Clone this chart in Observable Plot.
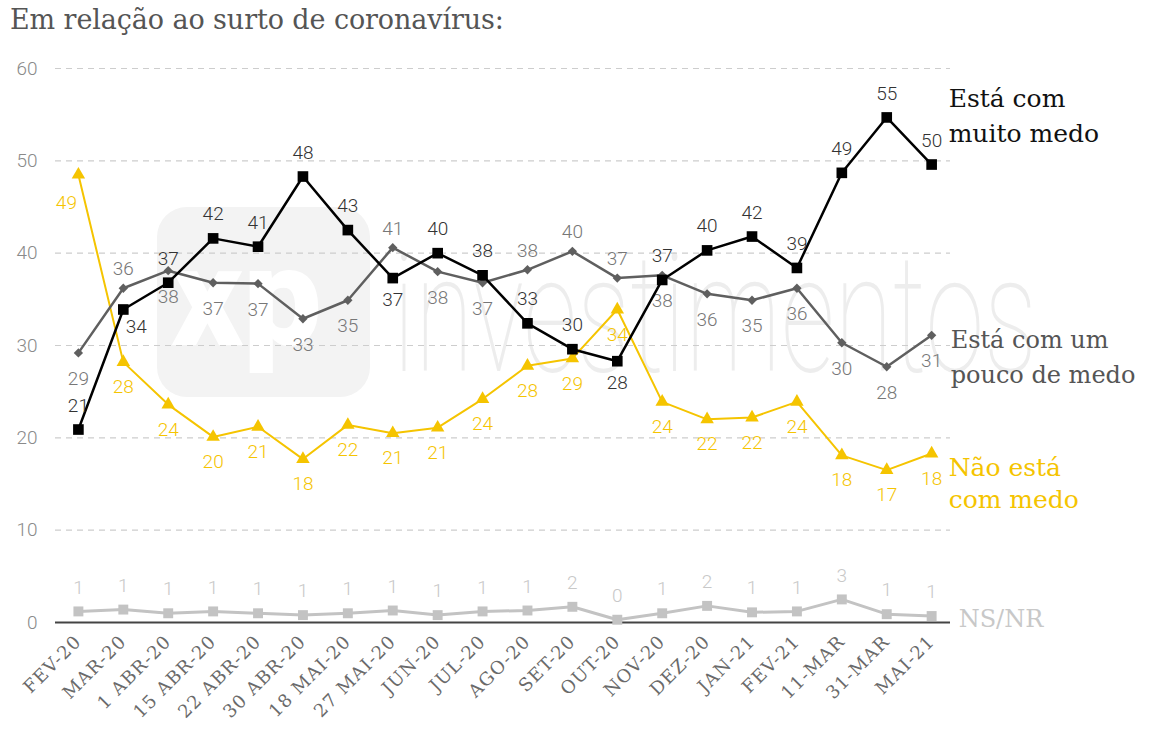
<!DOCTYPE html>
<html><head><meta charset="utf-8">
<script src="https://cdn.jsdelivr.net/npm/d3@7"></script>
<script src="https://cdn.jsdelivr.net/npm/@observablehq/plot@0.6"></script>
<style>
body{margin:0;background:#fff;width:1150px;height:738px;overflow:hidden;position:relative;font-family:"DejaVu Serif",serif;}
#title{position:absolute;left:10px;top:4px;font-size:27px;color:#555;white-space:nowrap;letter-spacing:-0.1px;}
#chart{position:absolute;left:0;top:42px;}
#logo{position:absolute;left:157px;top:207px;width:213px;height:190px;border-radius:30px;background:#f3f3f3;}
#logo span{position:absolute;left:14px;top:20px;font-family:Roboto,sans-serif;font-weight:900;font-size:140px;line-height:140px;color:#fff;}
#wm{position:absolute;left:393px;top:232px;font-family:Roboto,sans-serif;font-weight:100;font-size:165px;line-height:165px;color:#ededed;transform:scaleX(0.645);transform-origin:0 0;white-space:nowrap;}
</style></head>
<body>
<div id="logo"><span>xp</span></div>
<div id="wm">investimentos</div>
<div id="title">Em relação ao surto de coronavírus:</div>
<div id="chart"></div>
<script>
const categories = ["FEV-20","MAR-20","1 ABR-20","15 ABR-20","22 ABR-20","30 ABR-20","18 MAI-20","27 MAI-20","JUN-20","JUL-20","AGO-20","SET-20","OUT-20","NOV-20","DEZ-20","JAN-21","FEV-21","11-MAR","31-MAR","MAI-21"];

// plotted values (estimated from point positions)
const muitoMedo = [20.9,33.9,36.8,41.6,40.7,48.3,42.5,37.3,40.0,37.6,32.4,29.6,28.3,37.1,40.3,41.8,38.4,48.7,54.7,49.6];
const poucoMedo = [29.2,36.2,38.1,36.8,36.7,32.9,34.9,40.6,38.0,36.8,38.2,40.2,37.3,37.6,35.6,34.9,36.2,30.3,27.7,31.1];
const semMedo   = [48.5,28.2,23.6,20.1,21.2,17.7,21.4,20.5,21.1,24.2,27.8,28.6,33.9,23.9,22.0,22.2,23.9,18.1,16.5,18.3];
const nsnr      = [1.2,1.4,1.0,1.2,1.0,0.8,1.0,1.3,0.8,1.2,1.3,1.7,0.3,1.0,1.8,1.1,1.2,2.5,0.9,0.7];

// printed labels
const muitoMedoLabels = [21,34,37,42,41,48,43,37,40,38,33,30,28,37,40,42,39,49,55,50];
const poucoMedoLabels = [29,36,38,37,37,33,35,41,38,37,38,40,37,38,36,35,36,30,28,31];
const semMedoLabels   = [49,28,24,20,21,18,22,21,21,24,28,29,34,24,22,22,24,18,17,18];
const nsnrLabels      = [1,1,1,1,1,1,1,1,1,1,1,2,0,1,2,1,1,3,1,1];

// label placement: a = above, b = below, r = below right, l = below left
const muitoMedoPos = ["a","r","a","a","a","a","a","b","a","a","a","a","b","a","a","a","a","a","a","a"];
const poucoMedoPos = ["b","a","b","b","b","b","b","a","b","b","a","a","a","b","b","b","b","b","b","b"];
const semMedoPos   = ["l","b","b","b","b","b","b","b","b","b","b","b","b","b","b","b","b","b","b","b"];

const seriesNames = ["Está com\nmuito medo","Está com um\npouco de medo","Não está\ncom medo","NS/NR"];

const rows = (vals, labels, pos) => vals.map((v,i)=>({i, v, label: labels[i], pos: pos ? pos[i] : "a"}));
const black = rows(muitoMedo, muitoMedoLabels, muitoMedoPos);
const gray = rows(poucoMedo, poucoMedoLabels, poucoMedoPos);
const yellow = rows(semMedo, semMedoLabels, semMedoPos);
const light = rows(nsnr, nsnrLabels, null);

const cBlack="#000", cGray="#5f5f5f", cYellow="#f5c400", cLight="#c3c3c3";
const slab = '"DejaVu Serif",serif';
const num = {fontFamily:"Roboto", fontWeight:300, fontSize:19};
const last = a => [a[a.length-1]];

const chart = Plot.plot({
  width:1150, height:696,
  marginTop:26, marginBottom:116, marginLeft:55, marginRight:200,
  x:{type:"linear", domain:[-0.51,19.42], axis:null},
  y:{domain:[0,60], axis:null},
  style:{background:"transparent", fontFamily:slab, overflow:"visible"},
  marks:[
    Plot.ruleY([10,20,30,40,50,60], {stroke:"#cdcdcd", strokeDasharray:"6,5", strokeWidth:1.2}),
    Plot.axisY({ticks:[0,10,20,30,40,50,60], tickSize:0, tickPadding:18, fontSize:19, fill:"#8a8a8a", fontFamily:"Roboto", fontWeight:300, label:null}),
    Plot.axisX({ticks:d3.range(categories.length), tickFormat:i=>categories[i], tickRotate:-45, tickSize:0, tickPadding:16, fontSize:18, fill:"#6a6a6a", label:null}),
    Plot.ruleY([0], {stroke:"#444", strokeWidth:2}),

    Plot.line(light, {x:"i", y:"v", stroke:cLight, strokeWidth:3}),
    Plot.dot(light, {x:"i", y:"v", symbol:"square", r:5.6, fill:cLight}),
    Plot.text(light, {x:"i", y:"v", text:"label", dy:-24, fill:"#c8c8c8", ...num}),

    Plot.line(yellow, {x:"i", y:"v", stroke:cYellow, strokeWidth:2}),
    Plot.dot(yellow, {x:"i", y:"v", symbol:"triangle", r:5, fill:cYellow}),
    Plot.text(yellow.filter(d=>d.pos==="b"), {x:"i", y:"v", text:"label", dy:25, fill:cYellow, ...num}),
    Plot.text(yellow.filter(d=>d.pos==="l"), {x:"i", y:"v", text:"label", dy:28, dx:-12, fill:cYellow, ...num}),

    Plot.line(gray, {x:"i", y:"v", stroke:cGray, strokeWidth:2.5}),
    Plot.dot(gray, {x:"i", y:"v", symbol:"diamond2", r:4.2, fill:cGray}),
    Plot.text(gray.filter(d=>d.pos==="a"), {x:"i", y:"v", text:"label", dy:-19, fill:"#777", ...num}),
    Plot.text(gray.filter(d=>d.pos==="b"), {x:"i", y:"v", text:"label", dy:26, fill:"#777", ...num}),

    Plot.line(black, {x:"i", y:"v", stroke:cBlack, strokeWidth:2.5}),
    Plot.dot(black, {x:"i", y:"v", symbol:"square", r:6, fill:cBlack}),
    Plot.text(black.filter(d=>d.pos==="a"), {x:"i", y:"v", text:"label", dy:-24, fill:"#333", ...num}),
    Plot.text(black.filter(d=>d.pos==="b"), {x:"i", y:"v", text:"label", dy:22, fill:"#333", ...num}),
    Plot.text(black.filter(d=>d.pos==="r"), {x:"i", y:"v", text:"label", dy:17, dx:13, fill:"#333", ...num}),

    Plot.text(last(black), {x:"i", y:"v", text:()=>seriesNames[0], dx:17, dy:-51, textAnchor:"start", lineAnchor:"middle", lineHeight:1.4, fontSize:25, fill:"#111"}),
    Plot.text(last(gray), {x:"i", y:"v", text:()=>seriesNames[1], dx:19, dy:19, textAnchor:"start", lineAnchor:"middle", lineHeight:1.45, fontSize:24, fill:"#555"}),
    Plot.text(last(yellow), {x:"i", y:"v", text:()=>seriesNames[2], dx:17, dy:28, textAnchor:"start", lineAnchor:"middle", lineHeight:1.3, fontSize:25, fill:cYellow}),
    Plot.text(last(light), {x:"i", y:"v", text:()=>seriesNames[3], dx:27, dy:3, textAnchor:"start", lineAnchor:"middle", fontSize:24, fill:"#c8c8c8"})
  ]
});
d3.select(chart).selectAll('[aria-label="x-axis tick label"]').attr("letter-spacing", "1.2px");
document.getElementById("chart").appendChild(chart);
</script>
</body></html>
